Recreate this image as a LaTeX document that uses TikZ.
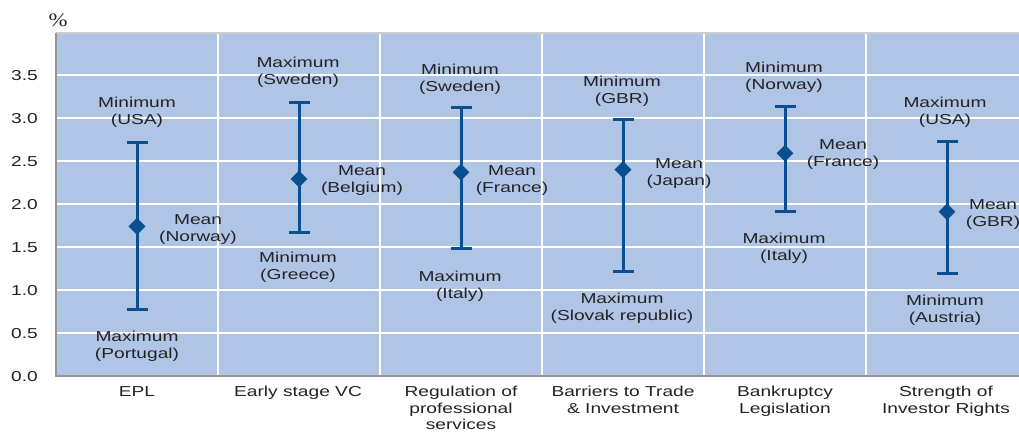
\documentclass[tikz,border=0pt]{standalone}
\usepackage{fontspec}
\setmainfont[FakeStretch=1.33]{Liberation Sans}
\newfontfamily\pctfont[FakeStretch=1.2]{Liberation Serif}
\usetikzlibrary{shapes.geometric}
\definecolor{plotbg}{RGB}{176,196,230}
\definecolor{barblue}{RGB}{10,80,145}
\definecolor{txt}{RGB}{35,35,35}
\definecolor{axisgray}{RGB}{150,150,150}
\definecolor{topgray}{RGB}{205,205,205}
\begin{document}
\begin{tikzpicture}[x=1pt,y=-1pt,
  lbl/.style={align=center, font=\fontsize{14.4}{17}\selectfont, text=txt, inner sep=0pt},
  ticklbl/.style={anchor=east, font=\fontsize{14.4}{17}\selectfont, text=txt, inner sep=0pt},
  catlbl/.style={anchor=north, align=center, font=\fontsize{14.4}{16.6}\selectfont, text=txt, inner sep=0pt},
  grid/.style={white, line width=1.5pt},
  barline/.style={barblue, line width=3pt},
  meanmark/.style={diamond, fill=barblue, minimum width=17pt, minimum height=17pt, inner sep=0pt}]
\useasboundingbox (0,0) rectangle (1019,432);
\fill[plotbg] (56,33) rectangle (1019,376);
\foreach \v in {0.5,1.0,1.5,2.0,2.5,3.0,3.5}
  \draw[grid] (56,{376-86*\v}) -- (1019,{376-86*\v});
\foreach \x in {218,380,542,704,866}
  \draw[grid] (\x,33) -- (\x,376);
\draw[topgray, line width=1.5pt] (56,33) -- (1019,33);
\draw[axisgray, line width=2pt] (56,33) -- (56,377);
\draw[axisgray, line width=2.5pt] (55,376) -- (1019,376);
% axis labels
\node[inner sep=0pt, text=txt, font=\pctfont\fontsize{19}{19}\selectfont] (pct) at (58,20) {\%};
\foreach \v/\t in {0/0.0,0.5/0.5,1/1.0,1.5/1.5,2/2.0,2.5/2.5,3/3.0,3.5/3.5}
  \node[ticklbl] (tick\t) at (38,{377-86*\v}) {\t};
% error bars
\foreach \n/\cx/\tp/\bt/\mn in {epl/137/2.72/0.77/1.74, vc/299/3.18/1.67/2.29, reg/461/3.12/1.48/2.37, btr/623/2.98/1.21/2.40, bank/785/3.13/1.91/2.59, inv/947/2.73/1.19/1.91}{
  \coordinate (\n top) at (\cx,{376-86*\tp});
  \coordinate (\n bot) at (\cx,{376-86*\bt});
  \draw[barline] (\n top) -- (\n bot);
  \draw[barline] ([xshift=-10.5pt]\n top) -- ([xshift=10.5pt]\n top);
  \draw[barline] ([xshift=-10.5pt]\n bot) -- ([xshift=10.5pt]\n bot);
  \node[meanmark] (\n mean) at (\cx,{376-86*\mn}) {};
}
% data labels
\node[lbl] (eplA) at (137,112) {Minimum\\(USA)};
\node[lbl] (eplB) at (198,230) {Mean\\(Norway)};
\node[lbl] (eplC) at (137,346) {Maximum\\(Portugal)};
\node[lbl] (vcA) at (298,72) {Maximum\\(Sweden)};
\node[lbl] (vcB) at (362,181) {Mean\\(Belgium)};
\node[lbl] (vcC) at (298,267) {Minimum\\(Greece)};
\node[lbl] (regA) at (460,79) {Minimum\\(Sweden)};
\node[lbl] (regB) at (512,181) {Mean\\(France)};
\node[lbl] (regC) at (460,286) {Maximum\\(Italy)};
\node[lbl] (btrA) at (622,91) {Minimum\\(GBR)};
\node[lbl] (btrB) at (679,174) {Mean\\(Japan)};
\node[lbl] (btrC) at (622,308) {Maximum\\(Slovak republic)};
\node[lbl] (bankA) at (784,77) {Minimum\\(Norway)};
\node[lbl] (bankB) at (843,155) {Mean\\(France)};
\node[lbl] (bankC) at (784,248) {Maximum\\(Italy)};
\node[lbl] (invA) at (945,112) {Maximum\\(USA)};
\node[lbl] (invB) at (993,215) {Mean\\(GBR)};
\node[lbl] (invC) at (945,310) {Minimum\\(Austria)};
% category labels
\node[catlbl] (cat1) at (137,386) {EPL};
\node[catlbl] (cat2) at (298,386) {Early stage VC};
\node[catlbl] (cat3) at (461,386) {Regulation of\\professional\\services};
\node[catlbl] (cat4) at (623,386) {Barriers to Trade\\\& Investment};
\node[catlbl] (cat5) at (785,386) {Bankruptcy\\Legislation};
\node[catlbl] (cat6) at (946,386) {Strength of\\Investor Rights};
\end{tikzpicture}
\end{document}
